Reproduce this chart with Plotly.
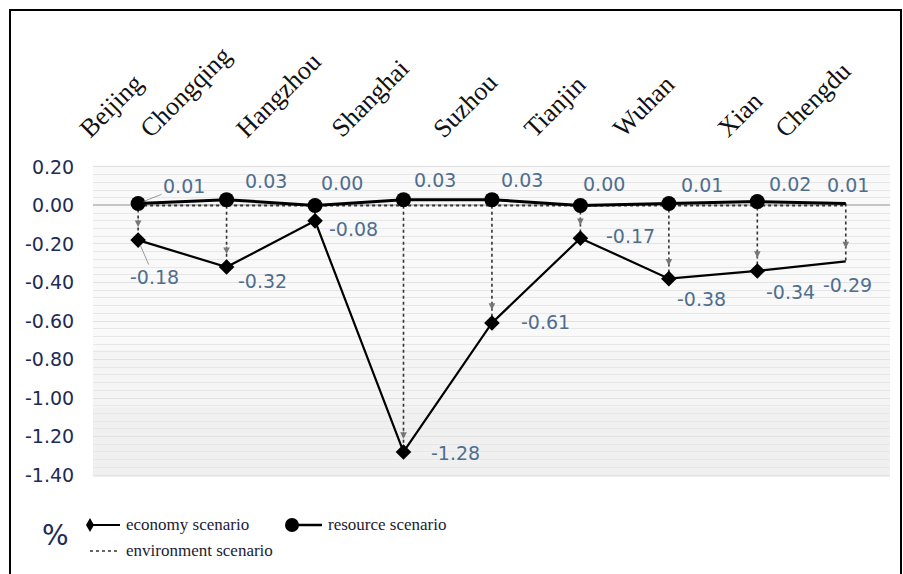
import plotly.graph_objects as go

# ---------------- data ----------------
cities = ["Beijing", "Chongqing", "Hangzhou", "Shanghai", "Suzhou",
          "Tianjin", "Wuhan", "Xian", "Chengdu"]
economy = [-0.18, -0.32, -0.08, -1.28, -0.61, -0.17, -0.38, -0.34, -0.29]
resource = [0.01, 0.03, 0.00, 0.03, 0.03, 0.00, 0.01, 0.02, 0.01]
environment = [0.00, 0.00, 0.00, 0.00, 0.00, 0.00, 0.00, 0.00, 0.00]
y_tickvals = [0.2, 0.0, -0.2, -0.4, -0.6, -0.8, -1.0, -1.2, -1.4]
y_ticktext = ["0.20", "0.00", "-0.20", "-0.40", "-0.60", "-0.80", "-1.00", "-1.20", "-1.40"]
series_names = ["economy scenario", "resource scenario", "environment scenario"]

# ---------------- styles ----------------
W, H = 903, 574
ML, MR, MT, MB = 93, 13, 165, 97
PW, PH = W - ML - MR, H - MT - MB
NAVY = "#1d2b55"
LABEL = "#4f6e8f"
SERIF = "Liberation Serif"
SANS = "DejaVu Sans"

def px(x):
    return (x - ML) / PW

def py(y):
    return (H - MB - y) / PH

# label offsets (pixels) relative to the data point
res_off = [(46, -18), (39, -19), (27, -22), (32, -20), (30, -20), (24, -21), (33, -19), (33, -18), (2, -19)]
eco_off = [(16, 37), (36, 14), (38, 8), (52, 1), (54, -1), (50, -2), (33, 20), (33, 21), (2, 24)]
leader = [True, False, False, False, False, False, False, False, False]

fig = go.Figure()

# vertical dotted drop lines (environment scenario)
vx, vy = [], []
for c, r, e in zip(cities, resource, economy):
    vx += [c, c, None]
    vy += [r, e, None]
fig.add_trace(go.Scatter(x=vx, y=vy, mode="lines", showlegend=False,
                         line=dict(color="#333333", width=1.6, dash="dot"), hoverinfo="skip"))
# environment horizontal dotted line
fig.add_trace(go.Scatter(x=cities, y=environment, mode="lines", name=series_names[2], showlegend=False,
                         line=dict(color="#333333", width=2, dash="dot")))
# economy
fig.add_trace(go.Scatter(x=cities, y=economy, mode="lines+markers", name=series_names[0], showlegend=False,
                         line=dict(color="#000000", width=2.2),
                         marker=dict(symbol="diamond", size=[12] * 8 + [0], color="#000000",
                                     opacity=1, line=dict(width=0, color="#000000"))))
# resource
fig.add_trace(go.Scatter(x=cities, y=resource, mode="lines+markers", name=series_names[1], showlegend=False,
                         line=dict(color="#000000", width=3),
                         marker=dict(symbol="circle", size=[15] * 8 + [0], color="#000000",
                                     opacity=1, line=dict(width=0, color="#000000"))))

annotations = []
# arrowheads on drop lines (hidden when the drop is too short to show one)
for c, r, e in zip(cities, resource, economy):
    annotations.append(dict(x=c, y=e, xref="x", yref="y", ax=0, ay=-22, text="",
                            showarrow=True, arrowhead=2, arrowsize=1.1, arrowwidth=1.2,
                            arrowcolor="#777777" if (r - e) > 0.12 else "rgba(0,0,0,0)",
                            standoff=13))
# data labels
for i, c in enumerate(cities):
    annotations.append(dict(x=c, y=resource[i], xref="x", yref="y", text=f"{resource[i]:.2f}",
                            showarrow=True, ax=res_off[i][0], ay=res_off[i][1], arrowhead=0,
                            arrowwidth=1, standoff=6,
                            arrowcolor="#9a9a9a" if leader[i] else "rgba(0,0,0,0)",
                            font=dict(family=SANS, size=19, color=LABEL)))
    annotations.append(dict(x=c, y=economy[i], xref="x", yref="y", text=f"{economy[i]:.2f}",
                            showarrow=True, ax=eco_off[i][0], ay=eco_off[i][1], arrowhead=0,
                            arrowwidth=1, standoff=6,
                            arrowcolor="#9a9a9a" if leader[i] else "rgba(0,0,0,0)",
                            font=dict(family=SANS, size=19, color=LABEL)))
# rotated category labels at top
for c in cities:
    annotations.append(dict(x=c, y=py(146), xref="x", yref="paper", text=c, showarrow=False,
                            textangle=-45, xanchor="right", yanchor="bottom", xshift=14,
                            font=dict(family=SERIF, size=26, color="#111111")))
# % unit
annotations.append(dict(x=px(55), y=py(535), xref="paper", yref="paper", text="%", showarrow=False,
                        xanchor="center", yanchor="middle", font=dict(family=SANS, size=28, color=NAVY)))
# legend texts
leg_text = [(124, 524, series_names[0]), (326, 524, series_names[1]), (124, 550, series_names[2])]
for x0, y0, t in leg_text:
    annotations.append(dict(x=px(x0), y=py(y0), xref="paper", yref="paper", text=t, showarrow=False,
                            xanchor="left", yanchor="middle",
                            font=dict(family=SERIF, size=17, color="#1b1b33")))

shapes = []
# background gradient approximation
shapes.append(dict(type="rect", xref="paper", yref="y", x0=0, x1=1, y0=0.21, y1=-0.75,
                   fillcolor="white", opacity=0.6, line=dict(width=0), layer="below"))
shapes.append(dict(type="rect", xref="paper", yref="y", x0=0, x1=1, y0=-0.75, y1=-1.05,
                   fillcolor="white", opacity=0.3, line=dict(width=0), layer="below"))
# outer frame
shapes.append(dict(type="rect", xref="paper", yref="paper", x0=px(10), x1=px(901), y0=py(10), y1=py(580),
                   line=dict(color="#000000", width=2), fillcolor="rgba(0,0,0,0)", layer="above"))
# legend symbols
shapes.append(dict(type="line", xref="paper", yref="paper", x0=px(90), x1=px(120), y0=py(525), y1=py(525),
                   line=dict(color="#000000", width=2)))
shapes.append(dict(type="path", xref="paper", yref="paper", xsizemode="pixel", ysizemode="pixel",
                   xanchor=px(90), yanchor=py(525), path="M -4 0 L 0 7 L 4 0 L 0 -7 Z",
                   fillcolor="#000000", line=dict(width=0)))
shapes.append(dict(type="line", xref="paper", yref="paper", x0=px(292), x1=px(322), y0=py(525), y1=py(525),
                   line=dict(color="#000000", width=2.5)))
shapes.append(dict(type="circle", xref="paper", yref="paper", xsizemode="pixel", ysizemode="pixel",
                   xanchor=px(292), yanchor=py(525), x0=-7, x1=7, y0=-7, y1=7,
                   fillcolor="#000000", line=dict(width=0)))
shapes.append(dict(type="line", xref="paper", yref="paper", x0=px(90), x1=px(120), y0=py(551), y1=py(551),
                   line=dict(color="#333333", width=1.3, dash="dot")))

fig.update_layout(
    width=W, height=H,
    margin=dict(l=ML, r=MR, t=MT, b=MB),
    paper_bgcolor="white",
    plot_bgcolor="#f0f0f0",
    showlegend=False,
    annotations=annotations,
    shapes=shapes,
    xaxis=dict(type="category", range=[-0.51, 8.5], showticklabels=False, showgrid=False,
               zeroline=False, showline=False, ticks=""),
    yaxis=dict(range=[-1.41, 0.21], tickmode="array", tickvals=y_tickvals, ticktext=y_ticktext,
               showgrid=True, gridcolor="#e2e2e2", gridwidth=1,
               zeroline=True, zerolinecolor="#c6c6c6", zerolinewidth=1.5,
               minor=dict(dtick=0.04, tick0=0, showgrid=True, gridcolor="#e7e7e7", gridwidth=1),
               showline=False, ticks="outside", ticklen=0, ticklabelstandoff=14,
               tickfont=dict(family=SANS, size=19, color=NAVY)),
)

fig.write_html("out.html")
